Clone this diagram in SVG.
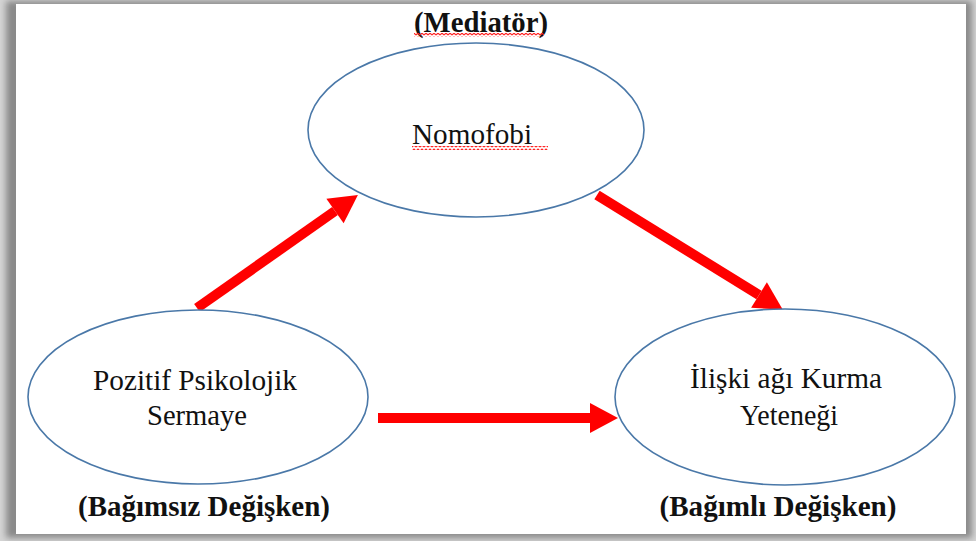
<svg xmlns="http://www.w3.org/2000/svg" width="976" height="541" viewBox="0 0 976 541">
  <style>
    .node { fill: #ffffff; stroke: #4a78a8; stroke-width: 1.6; }
    .label { font-family: "Liberation Serif", "Times New Roman", serif; font-size: 30px; fill: #111111; text-anchor: middle; }
    .role { font-family: "Liberation Serif", "Times New Roman", serif; font-size: 29px; font-weight: bold; fill: #111111; text-anchor: middle; }
    .link { stroke: #ff0000; stroke-width: 10; fill: none; marker-end: url(#head); }
  </style>
  <defs>
    <!-- arrowhead base sits on the line end, tip points 28px further -->
    <marker id="head" markerUnits="userSpaceOnUse" markerWidth="30" markerHeight="30" refX="0" refY="15" orient="auto" overflow="visible">
      <path d="M0,0 L28,15 L0,30 z" fill="#ff0000"/>
    </marker>
    <pattern id="squiggle" patternUnits="userSpaceOnUse" width="4" height="4">
      <path d="M0,3 L2,1 L4,3" fill="none" stroke="#ff2020" stroke-width="1.2"/>
    </pattern>
    <filter id="soft" x="-5%" y="-5%" width="110%" height="110%">
      <feGaussianBlur stdDeviation="3"/>
    </filter>
  </defs>

  <!-- page frame with drop shadow -->
  <rect x="0" y="0" width="976" height="541" fill="#d4d4d4"/>
  <rect x="6" y="1" width="966" height="537" fill="#8a8a8a" filter="url(#soft)"/>
  <rect x="16" y="4" width="950" height="530" fill="#ffffff"/>

  <!-- connectors -->
  <g id="connectors">
    <line class="link" x1="197" y1="308" x2="335" y2="211"/>
    <line class="link" x1="597" y1="195" x2="759" y2="295"/>
    <line class="link" x1="378" y1="418" x2="590" y2="418"/>
  </g>

  <!-- mediator -->
  <g id="nomofobi">
    <ellipse class="node" cx="476" cy="130" rx="168" ry="87"/>
    <text class="label" x="472" y="144" textLength="120" lengthAdjust="spacingAndGlyphs">Nomofobi</text>
    <rect x="412" y="146" width="136" height="4" fill="url(#squiggle)"/>
  </g>

  <!-- independent variable -->
  <g id="pozitif-psikolojik-sermaye">
    <ellipse class="node" cx="198" cy="397" rx="170" ry="87"/>
    <text class="label" x="195" y="390" textLength="204" lengthAdjust="spacingAndGlyphs">Pozitif Psikolojik</text>
    <text class="label" x="197" y="425" textLength="100" lengthAdjust="spacingAndGlyphs">Sermaye</text>
  </g>

  <!-- dependent variable -->
  <g id="iliski-agi-kurma-yetenegi">
    <ellipse class="node" cx="785" cy="397" rx="170" ry="88"/>
    <text class="label" x="786" y="388" textLength="192" lengthAdjust="spacingAndGlyphs">İlişki ağı Kurma</text>
    <text class="label" x="789" y="425" textLength="98" lengthAdjust="spacingAndGlyphs">Yeteneği</text>
  </g>

  <!-- role captions -->
  <g id="role-mediator">
    <text class="role" x="481" y="32" textLength="134" lengthAdjust="spacingAndGlyphs">(Mediatör)</text>
    <rect x="414" y="33" width="130" height="4" fill="url(#squiggle)"/>
  </g>
  <g id="role-independent">
    <text class="role" x="204" y="516" textLength="252" lengthAdjust="spacingAndGlyphs">(Bağımsız Değişken)</text>
  </g>
  <g id="role-dependent">
    <text class="role" x="778" y="516" textLength="237" lengthAdjust="spacingAndGlyphs">(Bağımlı Değişken)</text>
  </g>
</svg>
